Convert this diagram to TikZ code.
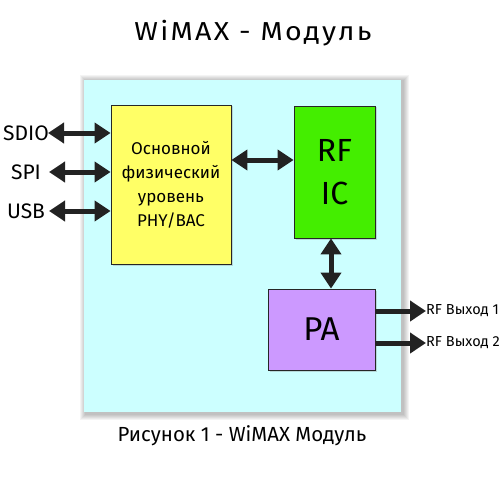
\documentclass[tikz,border=0pt]{standalone}
\usepackage{fontspec}
\setmainfont{Fira Sans}
\usetikzlibrary{arrows.meta,shadows,calc}
\definecolor{bgcyan}{HTML}{CCFFFF}
\definecolor{phyyellow}{HTML}{FFFF66}
\definecolor{rfgreen}{HTML}{44EE00}
\definecolor{papurple}{HTML}{CC99FF}
\definecolor{arrowgray}{HTML}{222222}
\tikzset{
  blockbox/.style={draw=black!85, line width=0.8pt, inner sep=0pt, align=center,
    drop shadow={shadow xshift=1.5pt, shadow yshift=-1.5pt, opacity=0.3}},
  biarrow/.style={draw=arrowgray, line width=5pt,
    {Triangle[length=16pt,width=20pt]}-{Triangle[length=16pt,width=20pt]}},
  outarrow/.style={draw=arrowgray, line width=5pt, -{Triangle[length=16pt,width=20pt]}},
  lbl/.style={font=\fontsize{21}{21}\selectfont, inner sep=0pt},
  outlbl/.style={font=\fontsize{14.5}{14.5}\selectfont, inner sep=0pt, anchor=west},
}
\begin{document}
\begin{tikzpicture}[x=1pt,y=-1pt]
\useasboundingbox (0,0) rectangle (500,500);
\fill[white] (0,0) rectangle (500,500);
% title
\node[font=\fontsize{26}{26}\selectfont\addfontfeatures{LetterSpace=8}, inner sep=0pt] (title) at (253,33) {\scalebox{1.1}[1]{WiMAX - Модуль}};
% soft shadow of the module
\foreach \d in {1,2,3,4,5,6}{
  \fill[black, opacity=0.045] ({84-\d+1.5},{80-\d+1.5}) rectangle ({401+\d+1.5},{412+\d+1.5});
}
% module background
\node[fill=bgcyan, minimum width=317pt, minimum height=332pt, inner sep=0pt] (module) at (242.5,246) {};
% blocks
\node[blockbox, fill=phyyellow, minimum width=120pt, minimum height=159pt,
  font=\fontsize{17}{24}\selectfont] (phy) at (171,184.5)
  {Основной\\физический\\уровень\\PHY/BAC};
\node[blockbox, fill=rfgreen, minimum width=81pt, minimum height=132pt,
  font=\fontsize{32}{43}\selectfont] (rfic) at (334.5,172) {RF\\IC};
\node[blockbox, fill=papurple, minimum width=107pt, minimum height=81pt,
  font=\fontsize{33}{33}\selectfont] (pa) at (321.5,329.5) {PA};
% interface labels
\node[lbl] (sdio) at (26,133) {SDIO};
\node[lbl] (spi) at (26,172) {SPI};
\node[lbl] (usb) at (26,211) {USB};
\coordinate (sdioend) at (48,133);
\coordinate (spiend) at (49,172);
\coordinate (usbend) at (49,211);
\draw[biarrow] (sdioend) -- (sdioend -| phy.west);
\draw[biarrow] (spiend) -- (spiend -| phy.west);
\draw[biarrow] (usbend) -- (usbend -| phy.west);
% internal arrows
\coordinate (mid) at (0,160);
\draw[biarrow] (mid -| phy.east) -- (mid -| rfic.west);
\coordinate (vx) at (331,0);
\draw[biarrow] (vx |- rfic.south) -- (vx |- pa.north);
% outputs
\node[outlbl] (out1) at (426,311) {RF Выход 1};
\node[outlbl] (out2) at (426,343) {RF Выход 2};
\draw[outarrow] (pa.east |- out1.west) -- (out1.west);
\draw[outarrow] (pa.east |- out2.west) -- (out2.west);
% caption
\node[font=\fontsize{20.4}{20.4}\selectfont, inner sep=0pt] (caption) at (242,436) {Рисунок 1 - WiMAX Модуль};
\end{tikzpicture}
\end{document}
